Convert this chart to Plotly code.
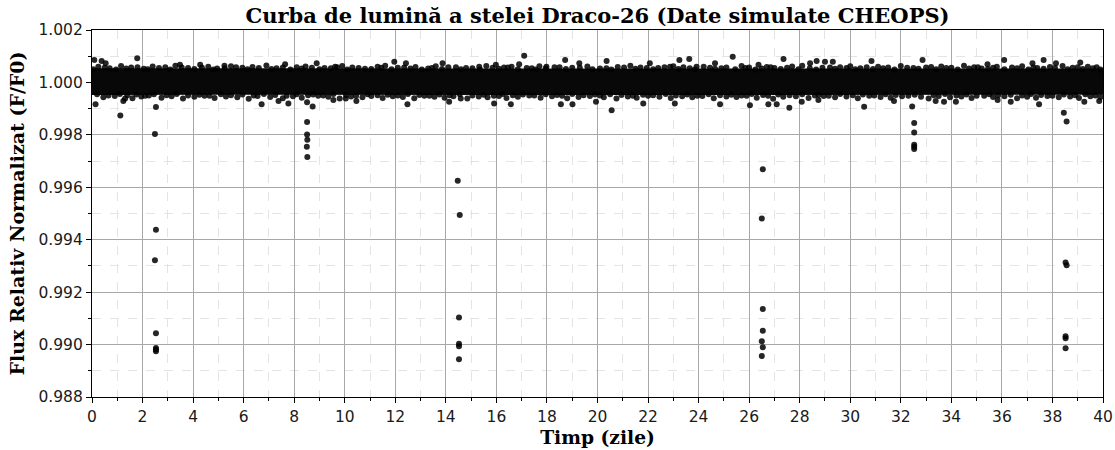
import plotly.graph_objects as go

# ---------------- data ----------------
# dense baseline band (envelope of the overlapping points), time in days
band_t = [0.0, 5.0, 10.0, 15.0, 20.0, 25.0, 30.0, 35.0, 40.0]
band_upper = [1.00054, 1.00054, 1.00053, 1.00054, 1.00054, 1.00053, 1.00054, 1.00054, 1.00053]
band_lower = [0.99952, 0.99953, 0.99952, 0.99953, 0.99952, 0.99952, 0.99953, 0.99952, 0.99953]

# points on the upper / lower fringe of the band
top_t = [0.25, 0.7, 1.15, 1.55, 2.05, 2.4, 2.9, 3.3, 3.8, 4.6, 4.95, 5.5, 5.95, 6.35, 6.9, 7.3,
         8.1, 8.45, 9.2, 9.9, 10.3, 10.8, 11.3, 11.6, 12.1, 12.8, 13.3, 13.6, 14.4, 14.8, 15.6,
         16.3, 16.6, 17.4, 17.7, 18.3, 19.0, 19.6, 20.1, 20.8, 21.3, 21.7, 22.4, 23.0, 23.4,
         24.2, 24.9, 25.7, 26.0, 26.7, 27.0, 27.7, 28.1, 28.9, 29.6, 30.0, 30.4, 31.1, 31.5,
         32.0, 32.5, 33.2, 33.6, 34.0, 34.5, 34.9, 35.2, 35.8, 36.4, 36.8, 37.4, 37.9, 38.4,
         38.8, 39.4, 39.75]
top_f = [1.00060, 1.00054, 1.00063, 1.00057, 1.00052, 1.00061, 1.00058, 1.00064, 1.00055, 1.00060,
         1.00053, 1.00062, 1.00056, 1.00059, 1.00065, 1.00054, 1.00058, 1.00061, 1.00055, 1.00063,
         1.00057, 1.00052, 1.00060, 1.00064, 1.00056, 1.00059, 1.00053, 1.00062, 1.00058, 1.00055,
         1.00063, 1.00057, 1.00060, 1.00054, 1.00062, 1.00058, 1.00056, 1.00061, 1.00053, 1.00059,
         1.00064, 1.00057, 1.00055, 1.00062, 1.00058, 1.00060, 1.00054, 1.00063, 1.00057, 1.00059,
         1.00055, 1.00061, 1.00064, 1.00056, 1.00058, 1.00062, 1.00054, 1.00060, 1.00057, 1.00063,
         1.00055, 1.00059, 1.00061, 1.00056, 1.00064, 1.00058, 1.00053, 1.00060, 1.00057, 1.00062,
         1.00055, 1.00059, 1.00063, 1.00056, 1.00060, 1.00058]
top2_t = [0.05, 0.5, 0.95, 1.35, 1.8, 2.2, 2.65, 3.1, 3.55, 4.05, 4.35, 4.8, 5.25, 5.7, 6.15, 6.6,
          7.1, 7.55, 7.85, 8.3, 8.7, 9.0, 9.45, 9.7, 10.1, 10.55, 11.05, 11.45, 11.85, 12.35,
          12.6, 13.05, 13.45, 13.85, 14.1, 14.6, 15.05, 15.35, 15.85, 16.1, 16.45, 16.85, 17.2,
          17.55, 17.95, 18.5, 18.75, 19.3, 19.8, 20.35, 20.55, 21.05, 21.5, 21.95, 22.2, 22.65,
          23.2, 23.65, 23.85, 24.45, 24.65, 25.1, 25.45, 25.85, 26.25, 26.5, 26.85, 27.25, 27.5,
          27.95, 28.4, 28.65, 29.2, 29.4, 29.85, 30.2, 30.65, 30.9, 31.3, 31.75, 32.25, 32.7,
          33.0, 33.4, 33.8, 34.25, 34.7, 35.05, 35.45, 35.65, 36.1, 36.6, 37.05, 37.25, 37.65,
          38.1, 38.6, 39.0, 39.2, 39.6, 39.9]
top2_f = [1.00050, 1.00056, 1.00049, 1.00053, 1.00058, 1.00050, 1.00055, 1.00049, 1.00057, 1.00051,
          1.00056, 1.00049, 1.00054, 1.00058, 1.00050, 1.00055, 1.00051, 1.00057, 1.00049, 1.00053,
          1.00056, 1.00050, 1.00054, 1.00058, 1.00049, 1.00055, 1.00051, 1.00056, 1.00050, 1.00057,
          1.00053, 1.00049, 1.00055, 1.00051, 1.00058, 1.00050, 1.00054, 1.00049, 1.00056, 1.00052,
          1.00057, 1.00050, 1.00055, 1.00049, 1.00053, 1.00058, 1.00051, 1.00056, 1.00050, 1.00054,
          1.00049, 1.00057, 1.00052, 1.00055, 1.00050, 1.00058, 1.00051, 1.00054, 1.00049, 1.00056,
          1.00052, 1.00057, 1.00050, 1.00055, 1.00049, 1.00053, 1.00058, 1.00051, 1.00056, 1.00050,
          1.00054, 1.00049, 1.00057, 1.00052, 1.00055, 1.00050, 1.00058, 1.00051, 1.00054, 1.00049,
          1.00056, 1.00052, 1.00057, 1.00050, 1.00055, 1.00049, 1.00053, 1.00058, 1.00051, 1.00056,
          1.00050, 1.00054, 1.00049, 1.00057, 1.00052, 1.00055, 1.00050, 1.00058, 1.00051, 1.00054,
          1.00049]
bot_t = [0.45, 0.9, 1.6, 1.95, 2.25, 2.75, 3.15, 3.6, 4.05, 4.45, 4.85, 5.3, 5.75, 6.2, 6.55, 7.05,
         7.55, 7.95, 8.3, 8.95, 9.35, 9.8, 10.25, 10.7, 11.05, 11.5, 11.9, 12.3, 12.75, 13.15,
         13.55, 13.95, 14.3, 14.85, 15.3, 15.65, 16.1, 16.4, 16.85, 17.3, 17.75, 18.2, 18.8,
         19.25, 19.7, 20.25, 20.75, 21.2, 21.55, 22.0, 22.45, 22.9, 23.35, 23.75, 24.15, 24.6,
         25.1, 25.5, 25.9, 26.3, 26.95, 27.35, 27.85, 28.35, 28.95, 29.4, 29.85, 30.3, 30.75,
         31.2, 31.6, 32.05, 32.8, 33.1, 33.5, 33.95, 34.4, 34.8, 35.3, 35.65, 36.1, 36.6, 37.0,
         37.35, 37.8, 38.25, 38.7, 39.05, 39.5, 39.9]
bot_f = [0.99943, 0.99948, 0.99940, 0.99946, 0.99950, 0.99942, 0.99947, 0.99939, 0.99945, 0.99949,
         0.99941, 0.99946, 0.99943, 0.99938, 0.99948, 0.99944, 0.99940, 0.99947, 0.99942, 0.99949,
         0.99945, 0.99939, 0.99946, 0.99943, 0.99948, 0.99941, 0.99947, 0.99944, 0.99940, 0.99949,
         0.99945, 0.99942, 0.99947, 0.99939, 0.99946, 0.99943, 0.99948, 0.99941, 0.99945, 0.99950,
         0.99942, 0.99947, 0.99940, 0.99944, 0.99948, 0.99943, 0.99939, 0.99946, 0.99942, 0.99949,
         0.99945, 0.99941, 0.99947, 0.99943, 0.99948, 0.99940, 0.99946, 0.99944, 0.99949, 0.99942,
         0.99938, 0.99945, 0.99947, 0.99941, 0.99948, 0.99943, 0.99946, 0.99940, 0.99949, 0.99944,
         0.99942, 0.99947, 0.99945, 0.99939, 0.99948, 0.99943, 0.99946, 0.99941, 0.99949, 0.99944,
         0.99947, 0.99940, 0.99945, 0.99942, 0.99948, 0.99943, 0.99946, 0.99941, 0.99947, 0.99944]
bot2_t = [0.2, 0.65, 1.1, 1.4, 1.75, 2.1, 2.45, 2.95, 3.35, 3.8, 4.25, 4.65, 5.1, 5.5, 5.95, 6.4,
          6.8, 7.25, 7.7, 8.1, 8.55, 8.75, 9.15, 9.55, 10.05, 10.45, 10.9, 11.3, 11.7, 12.1, 12.5,
          12.95, 13.35, 13.75, 14.15, 14.55, 15.05, 15.5, 15.9, 16.25, 16.65, 17.05, 17.5, 17.95,
          18.4, 18.6, 19.0, 19.45, 19.9, 20.1, 20.5, 20.95, 21.4, 21.8, 22.2, 22.7, 23.1, 23.55,
          23.95, 24.4, 24.85, 25.3, 25.7, 26.1, 26.55, 26.75, 27.15, 27.6, 28.1, 28.6, 28.75,
          29.15, 29.6, 30.1, 30.5, 30.95, 31.4, 31.8, 32.3, 32.55, 33.3, 33.75, 34.2, 34.6, 35.0,
          35.5, 35.85, 36.35, 36.8, 37.15, 37.55, 38.0, 38.45, 38.9, 39.3, 39.7]
bot2_f = [0.99955, 0.99950, 0.99956, 0.99951, 0.99954, 0.99949, 0.99955, 0.99951, 0.99956, 0.99950,
          0.99953, 0.99949, 0.99955, 0.99951, 0.99954, 0.99950, 0.99956, 0.99952, 0.99949, 0.99955,
          0.99951, 0.99954, 0.99950, 0.99956, 0.99952, 0.99949, 0.99955, 0.99951, 0.99953, 0.99950,
          0.99956, 0.99952, 0.99949, 0.99954, 0.99951, 0.99955, 0.99950, 0.99953, 0.99949, 0.99956,
          0.99951, 0.99954, 0.99950, 0.99955, 0.99952, 0.99949, 0.99956, 0.99951, 0.99954, 0.99950,
          0.99955, 0.99952, 0.99949, 0.99953, 0.99951, 0.99956, 0.99950, 0.99954, 0.99949, 0.99955,
          0.99951, 0.99953, 0.99950, 0.99956, 0.99952, 0.99949, 0.99954, 0.99951, 0.99955, 0.99950,
          0.99953, 0.99949, 0.99956, 0.99951, 0.99954, 0.99950, 0.99955, 0.99952, 0.99949, 0.99953,
          0.99951, 0.99956, 0.99950, 0.99954, 0.99949, 0.99955, 0.99951, 0.99953, 0.99950, 0.99956,
          0.99952, 0.99949, 0.99954, 0.99951, 0.99955, 0.99950]

# isolated scatter points above / below the band
out_t = [0.09, 0.38, 0.54, 1.79, 0.14, 1.24, 1.31, 1.12, 3.48, 4.28, 5.24, 6.71, 7.64, 8.89, 7.38,
         7.77, 9.62, 9.55, 10.04, 10.46, 11.96, 12.42, 12.48, 13.87, 14.13, 14.59, 15.32, 15.91,
         15.98, 16.57, 16.90, 17.10, 17.98, 18.55, 18.72, 19.01, 19.28, 19.94, 20.36, 20.56,
         21.81, 22.07, 22.87, 23.24, 23.63, 23.06, 23.92, 24.65, 24.85, 25.35, 26.03, 26.37,
         26.76, 27.09, 27.36, 27.59, 28.08, 28.41, 28.67, 29.00, 29.31, 28.74, 30.84, 30.55,
         31.73, 32.86, 33.38, 33.71, 34.18, 35.43, 36.09, 35.83, 36.35, 37.21, 37.65, 37.47,
         38.14, 39.10, 39.26, 39.85]
out_f = [1.00086, 1.00082, 1.00073, 1.00092, 0.99917, 0.99929, 0.99939, 0.99874, 1.00067, 1.00067,
         1.00064, 0.99917, 1.00069, 1.00073, 0.99929, 0.99920, 1.00060, 0.99933, 0.99939, 0.99929,
         1.00079, 1.00073, 0.99917, 1.00073, 0.99926, 0.99939, 1.00060, 0.99920, 1.00067, 0.99917,
         1.00069, 1.00102, 1.00060, 0.99917, 1.00086, 0.99917, 1.00073, 0.99926, 1.00082, 0.99894,
         0.99920, 1.00073, 1.00060, 1.00086, 1.00089, 0.99920, 1.00060, 1.00073, 0.99917, 1.00098,
         0.99913, 1.00067, 0.99917, 0.99917, 1.00089, 0.99903, 0.99926, 1.00073, 1.00082, 1.00079,
         1.00079, 0.99933, 1.00082, 0.99907, 0.99929, 1.00086, 0.99929, 0.99926, 0.99926, 1.00069,
         1.00086, 0.99933, 0.99926, 1.00073, 1.00086, 0.99917, 1.00073, 1.00076, 0.99926, 0.99929]

# in-transit points
transit_t = [2.49, 2.53, 2.53, 2.49, 2.53, 2.53, 2.53, 2.53,
             8.51, 8.51, 8.52, 8.50, 8.52, 8.73, 8.51,
             14.47, 14.55, 14.52, 14.52, 14.52, 14.52,
             26.54, 26.50, 26.54, 26.54, 26.50, 26.54, 26.50,
             32.45, 32.53, 32.53, 32.53, 32.53, 32.53,
             38.45, 38.56, 38.52, 38.56, 38.52, 38.52, 38.52]
transit_f = [0.99803, 0.99906, 0.99438, 0.99322, 0.99043, 0.98987, 0.98981, 0.98975,
             0.99849, 0.99801, 0.99781, 0.99755, 0.99716, 0.99908, 0.99924,
             0.99625, 0.99494, 0.99103, 0.99003, 0.98994, 0.98944,
             0.99669, 0.99481, 0.99136, 0.99053, 0.99013, 0.98990, 0.98956,
             0.99908, 0.99845, 0.99809, 0.99762, 0.99755, 0.99746,
             0.99884, 0.99851, 0.99313, 0.99303, 0.99032, 0.99024, 0.98986]

x_ticks = list(range(0, 41, 2))
y_ticks = [0.988, 0.990, 0.992, 0.994, 0.996, 0.998, 1.000, 1.002]

# ---------------- figure ----------------
W, H = 1115, 450
PT = "black"
fig = go.Figure()

fig.add_trace(go.Scatter(
    x=band_t + band_t[::-1], y=band_upper + band_lower[::-1],
    fill="toself", fillcolor="#080808", line=dict(width=0),
    mode="lines", hoverinfo="skip", showlegend=False))

for xs, ys in [(top_t, top_f), (top2_t, top2_f), (bot_t, bot_f), (bot2_t, bot2_f),
               (out_t, out_f), (transit_t, transit_f)]:
    fig.add_trace(go.Scatter(
        x=xs, y=ys, mode="markers",
        marker=dict(size=6, color=PT, opacity=0.85, line=dict(width=0)),
        showlegend=False))

tick_font = dict(family="DejaVu Sans", size=15.5, color="#1a1a1a")

fig.update_layout(
    width=W, height=H,
    margin=dict(l=92, r=12, t=30, b=53, pad=0),
    paper_bgcolor="white", plot_bgcolor="white",
    title=dict(text="<b>Curba de lumină a stelei Draco-26 (Date simulate CHEOPS)</b>",
               font=dict(family="DejaVu Serif", size=21, color="black"),
               x=597.5 / W, xanchor="center",
               y=1 - 16 / H, yanchor="middle", yref="container"),
)

fig.update_xaxes(
    range=[0, 40], tickvals=x_ticks, ticktext=[str(v) for v in x_ticks],
    automargin=False,
    showgrid=True, gridcolor="#a8a8a8", gridwidth=0.8,
    ticks="outside", ticklen=5, tickwidth=1.2, tickcolor="black",
    showline=True, linecolor="black", linewidth=1.2, mirror=True,
    zeroline=False, tickfont=tick_font,
    minor=dict(dtick=1, showgrid=True, gridcolor="#e4e4e4", griddash="dash",
               gridwidth=0.6, ticks="outside", ticklen=3, tickcolor="black"),
    title=dict(text="<b>Timp (zile)</b>",
               font=dict(family="DejaVu Serif", size=18.7, color="black"), standoff=6),
)
fig.update_yaxes(
    range=[0.988, 1.002], tickvals=y_ticks, ticktext=[f"{v:.3f}" for v in y_ticks],
    automargin=False,
    showgrid=True, gridcolor="#a8a8a8", gridwidth=0.8,
    ticks="outside", ticklen=5, tickwidth=1.2, tickcolor="black",
    showline=True, linecolor="black", linewidth=1.2, mirror=True,
    zeroline=False, tickfont=tick_font,
    minor=dict(dtick=0.001, tick0=0.988, showgrid=True, gridcolor="#e4e4e4", griddash="dash",
               gridwidth=0.6, ticks="outside", ticklen=3, tickcolor="black"),
    title=dict(text="<b>Flux Relativ Normalizat (F/F0)</b>",
               font=dict(family="DejaVu Serif", size=19, color="black"), standoff=8),
)

# remove the browser's default 8px page margin so the figure fills the window exactly
fig.write_html("out.html", config={"displayModeBar": False},
               post_script="document.body.style.margin='0';")
